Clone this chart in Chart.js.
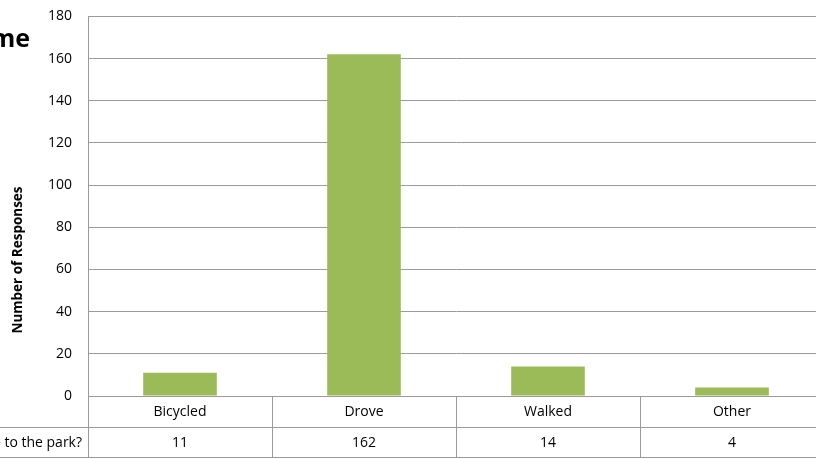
<!DOCTYPE html>
<html>
<head>
<meta charset="utf-8">
<script src="https://cdn.jsdelivr.net/npm/chart.js@4/dist/chart.umd.min.js"></script>
<style>
  html, body { margin: 0; padding: 0; background: #fff; overflow: hidden; }
  #wrap { width: 816px; height: 459px; overflow: hidden; }
  #chart { display: block; margin-top: -8px; }
</style>
</head>
<body>
<div id="wrap"><canvas id="chart" width="824" height="467"></canvas></div>
<script>
// ===== data =====
const categories = ["Bicycled", "Drove", "Walked", "Other"];
const responses = [11, 162, 14, 4];
const rowLabel = "How did you come to the park?";
const titleText = "How did you come";
const yTitle = "Number of Responses";

const FONT = "'Open Sans', sans-serif";
const GRID = "#9a9a9a";
const OFF = 8; // canvas is shifted up by this much

// data table under the plot + cut title, drawn on the x scale
const tablePlugin = {
  id: "tablePlugin",
  afterDraw(chart) {
    const ctx = chart.ctx;
    const area = chart.chartArea;
    const x = chart.scales.x;
    const rowH = 30.5;
    const y0 = area.bottom;
    const y1 = y0 + rowH;
    const y2 = y1 + rowH;
    const half = (x.getPixelForValue(1) - x.getPixelForValue(0)) / 2;

    ctx.save();
    ctx.strokeStyle = GRID;
    ctx.lineWidth = 1;
    ctx.beginPath();
    // horizontal rows
    ctx.moveTo(0, Math.round(y1) + 0.5); ctx.lineTo(area.right, Math.round(y1) + 0.5);
    ctx.moveTo(0, Math.round(y2) + 0.5); ctx.lineTo(area.right, Math.round(y2) + 0.5);
    // vertical lines
    ctx.moveTo(area.left + 0.5, y0); ctx.lineTo(area.left + 0.5, y2);
    categories.forEach((c, i) => {
      const xr = Math.round(x.getPixelForValue(i) + half) + 0.5;
      ctx.moveTo(xr, y0); ctx.lineTo(xr, y2);
    });
    ctx.stroke();

    ctx.fillStyle = "#000";
    ctx.font = "14px " + FONT;
    ctx.textAlign = "center";
    ctx.textBaseline = "middle";
    categories.forEach((c, i) => {
      const xc = x.getPixelForValue(i);
      ctx.fillText(c, xc, (y0 + y1) / 2 + 1);
      ctx.fillText(String(responses[i]), xc, (y1 + y2) / 2 + 1);
    });
    ctx.textAlign = "right";
    ctx.fillText(rowLabel, 82, (y1 + y2) / 2 + 1);

    // title (cut off at left)
    ctx.font = "bold 25px " + FONT;
    ctx.textAlign = "right";
    ctx.textBaseline = "alphabetic";
    ctx.fillText(titleText, 30, 47 + OFF);

    // y axis title
    ctx.font = "bold 13.5px " + FONT;
    ctx.textAlign = "center";
    ctx.textBaseline = "middle";
    ctx.translate(18, 260 + OFF);
    ctx.rotate(-Math.PI / 2);
    ctx.fillText(yTitle, 0, 0);
    ctx.restore();
  }
};

new Chart(document.getElementById("chart").getContext("2d"), {
  type: "bar",
  data: {
    labels: categories,
    datasets: [{
      label: rowLabel,
      data: responses,
      backgroundColor: "#9bbb59",
      borderWidth: 0,
      barPercentage: 0.4,
      categoryPercentage: 1
    }]
  },
  options: {
    responsive: false,
    animation: false,
    layout: { padding: { top: 7, bottom: 63, left: 0, right: 0 } },
    plugins: {
      legend: { display: false },
      tooltip: { enabled: false }
    },
    scales: {
      x: {
        display: false,
        offset: true
      },
      y: {
        min: 0,
        max: 180,
        afterFit(scale) { scale.width = 88; },
        ticks: {
          stepSize: 20,
          padding: 16,
          color: "#000",
          font: { family: FONT, size: 14 }
        },
        grid: { color: GRID, drawTicks: false },
        border: { display: true, color: GRID }
      }
    }
  },
  plugins: [tablePlugin]
});
</script>
</body>
</html>
